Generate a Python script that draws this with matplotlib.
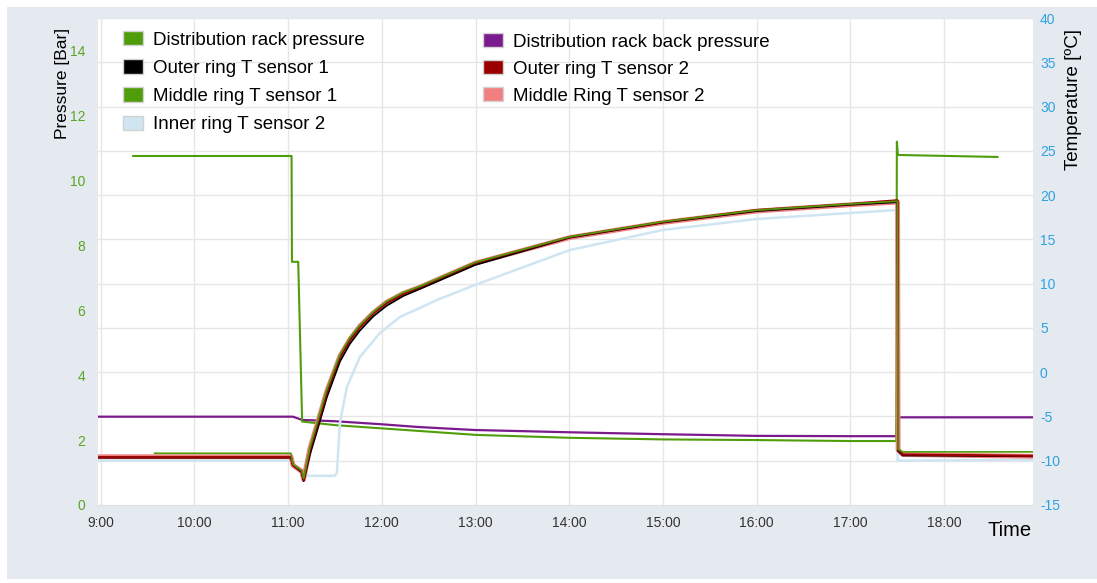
import matplotlib
matplotlib.use("Agg")
import matplotlib.pyplot as plt
from matplotlib.patches import Patch, Rectangle

plt.rcParams['font.family'] = ['Liberation Sans', 'DejaVu Sans']
plt.rcParams['axes.unicode_minus'] = False

# time in decimal hours
RACK_T = [9.346, 11.036, 11.040, 11.107, 11.149, 11.5, 12.0, 13.0, 14.0, 15.0, 16.0, 17.0,
          17.49, 17.497, 17.508, 17.53, 18.571]
RACK_P = [10.75, 10.75, 7.49, 7.49, 2.57, 2.46, 2.36, 2.16, 2.07, 2.02, 2.00, 1.97,
          1.97, 11.19, 10.78, 10.78, 10.72]

BACK_T = [8.965, 11.05, 11.15, 11.5, 11.98, 12.40, 12.99, 14.0, 15.01, 15.98, 16.995, 17.49,
          17.50, 18.948]
BACK_P = [2.72, 2.72, 2.62, 2.58, 2.49, 2.40, 2.31, 2.24, 2.18, 2.13, 2.12, 2.12, 2.70, 2.70]

OUT2_T = [8.965, 11.03, 11.05, 11.144, 11.165, 11.232, 11.317, 11.41, 11.552, 11.658, 11.765,
          11.907, 12.05, 12.227, 12.405, 12.993, 14.007, 15.0, 16.003, 16.995, 17.49, 17.505,
          17.51, 17.56, 18.948]
OUT2_V = [-9.6, -9.6, -10.5, -11.2, -12.2, -8.8, -5.74, -2.39, 1.71, 3.63, 5.10,
          6.65, 7.81, 8.83, 9.62, 12.33, 15.27, 16.96, 18.31, 18.99, 19.4, 19.4,
          -8.7, -9.3, -9.45]

MID2_V = [-9.55, -9.55, -10.5, -11.2, -12.1, -8.6, -5.6, -2.2, 1.8, 3.7, 5.2,
          6.7, 7.9, 8.9, 9.6, 12.3, 15.2, 16.9, 18.2, 18.9, 19.2, 19.2,
          -8.8, -9.3, -9.5]

OUT1_V = [-9.65, -9.65, -10.5, -11.3, -12.3, -9.3, -6.3, -2.9, 1.2, 3.2, 4.7,
          6.3, 7.5, 8.6, 9.4, 12.1, 15.2, 16.9, 18.2, 18.9, 19.2, 19.2,
          -8.9, -9.4, -9.5]

MID1_V = [-9.16, -9.16, -10.4, -11.1, -12.0, -8.5, -5.4, -2.0, 2.0, 3.9, 5.3,
          6.8, 8.0, 9.0, 9.7, 12.4, 15.3, 17.0, 18.3, 19.0, 19.3, 19.3,
          -8.7, -9.0, -9.0]
MID1_START = 9.574

INN2_T = [8.965, 11.03, 11.05, 11.16, 11.22, 11.498, 11.52, 11.552, 11.627, 11.765, 11.979,
          12.192, 12.405, 12.587, 12.993, 14.007, 15.0, 16.003, 16.995, 17.49, 17.505, 18.948]
INN2_V = [-10.0, -10.0, -10.6, -11.5, -11.7, -11.7, -11.39, -5.74, -1.67, 1.71, 4.42,
          6.23, 7.25, 8.15, 9.84, 13.8, 16.06, 17.3, 17.98, 18.3, -10.0, -9.9]

HOURS = list(range(9, 19))
HOUR_LABELS = ["%d:00" % h for h in HOURS]
P_TICKS = list(range(0, 15, 2))
T_TICKS = list(range(-15, 41, 5))

GREEN = "#4f9d0a"
PURPLE = "#7b1a8c"
DARKRED = "#9a0000"
SALMON = "#f08080"
LIGHTBLUE = "#cfe5f2"

W, H = 1097, 583
fig = plt.figure(figsize=(W / 100, H / 100), dpi=100)
fig.add_artist(Rectangle((7 / W, 1 - 579 / H), 1 - 7 / W, 572 / H, transform=fig.transFigure,
                         facecolor="#e5e9f0", edgecolor="none", zorder=-10))

ax = fig.add_axes([98 / W, 1 - 505 / H, (1033 - 98) / W, (505 - 18) / H])
ax2 = ax.twinx()

ax.set_xlim(8.97, 18.95)
ax.set_ylim(0, 15)
ax2.set_ylim(-15, 40)

# pressure
ax.plot(BACK_T, BACK_P, color=PURPLE, lw=1.6, zorder=3)
ax.plot(RACK_T, RACK_P, color=GREEN, lw=1.5, zorder=3)

# temperature
ax2.plot(INN2_T, INN2_V, color=LIGHTBLUE, lw=1.8)
ax2.plot(OUT2_T, MID2_V, color=SALMON, lw=3.5)
ax2.plot(OUT2_T, OUT1_V, color="black", lw=1.3)
ax2.plot(OUT2_T, OUT2_V, color=DARKRED, lw=1.6)
ax2.plot([MID1_START] + OUT2_T[1:], MID1_V, color=GREEN, lw=1.2)

# ticks and grid
ax.set_xticks(HOURS)
ax.set_xticklabels(HOUR_LABELS)
ax.set_yticks(P_TICKS)
ax.set_yticks([(t + 15) * 15 / 55 for t in T_TICKS], minor=True)
ax2.set_yticks(T_TICKS)
ax.grid(True, axis="x", color="#e6e6e6", lw=1)
ax.grid(True, axis="y", which="minor", color="#e6e6e6", lw=1)
ax.set_axisbelow(True)
ax.tick_params(axis="x", length=0, pad=8, labelsize=10, labelcolor="#333333")
ax.tick_params(axis="y", which="both", length=0, pad=9, labelsize=10, labelcolor="#5aa623")
ax2.tick_params(axis="y", length=0, pad=5, labelsize=10, labelcolor="#2ea3e3")
for a in (ax, ax2):
    for s in ("top", "left", "right"):
        a.spines[s].set_visible(False)
    a.spines["bottom"].set_color("#e0e0e0")

fig.text(62 / W, 1 - 83 / H, "Pressure [Bar]", rotation=90, ha="center", va="center", fontsize=12.5)
fig.text(1073 / W, 1 - 99 / H, "Temperature [ºC]", rotation=90, ha="center", va="center", fontsize=13.5)
fig.text(1010 / W, 1 - 531 / H, "Time", ha="center", va="center", fontsize=14.5)

# legend
def box(c):
    return Patch(facecolor=c, edgecolor="#d2d2d2", lw=1)

leg_kw = dict(loc="upper left", frameon=False, fontsize=13.5, handlelength=1.07, handleheight=0.8,
              handletextpad=0.55, labelspacing=0.56, borderpad=0, borderaxespad=0)
leg1 = ax2.legend([box(GREEN), box("black"), box(GREEN), box(LIGHTBLUE)],
                  ["Distribution rack pressure", "Outer ring T sensor 1", "Middle ring T sensor 1",
                   "Inner ring T sensor 2"],
                  bbox_to_anchor=(123 / W, 1 - 31 / H), bbox_transform=fig.transFigure, **leg_kw)
ax2.add_artist(leg1)
ax2.legend([box(PURPLE), box(DARKRED), box(SALMON)],
           ["Distribution rack back pressure", "Outer ring T sensor 2", "Middle Ring T sensor 2"],
           bbox_to_anchor=(483 / W, 1 - 33 / H), bbox_transform=fig.transFigure,
           **dict(leg_kw, labelspacing=0.5))

fig.savefig("out.png", dpi=100)
